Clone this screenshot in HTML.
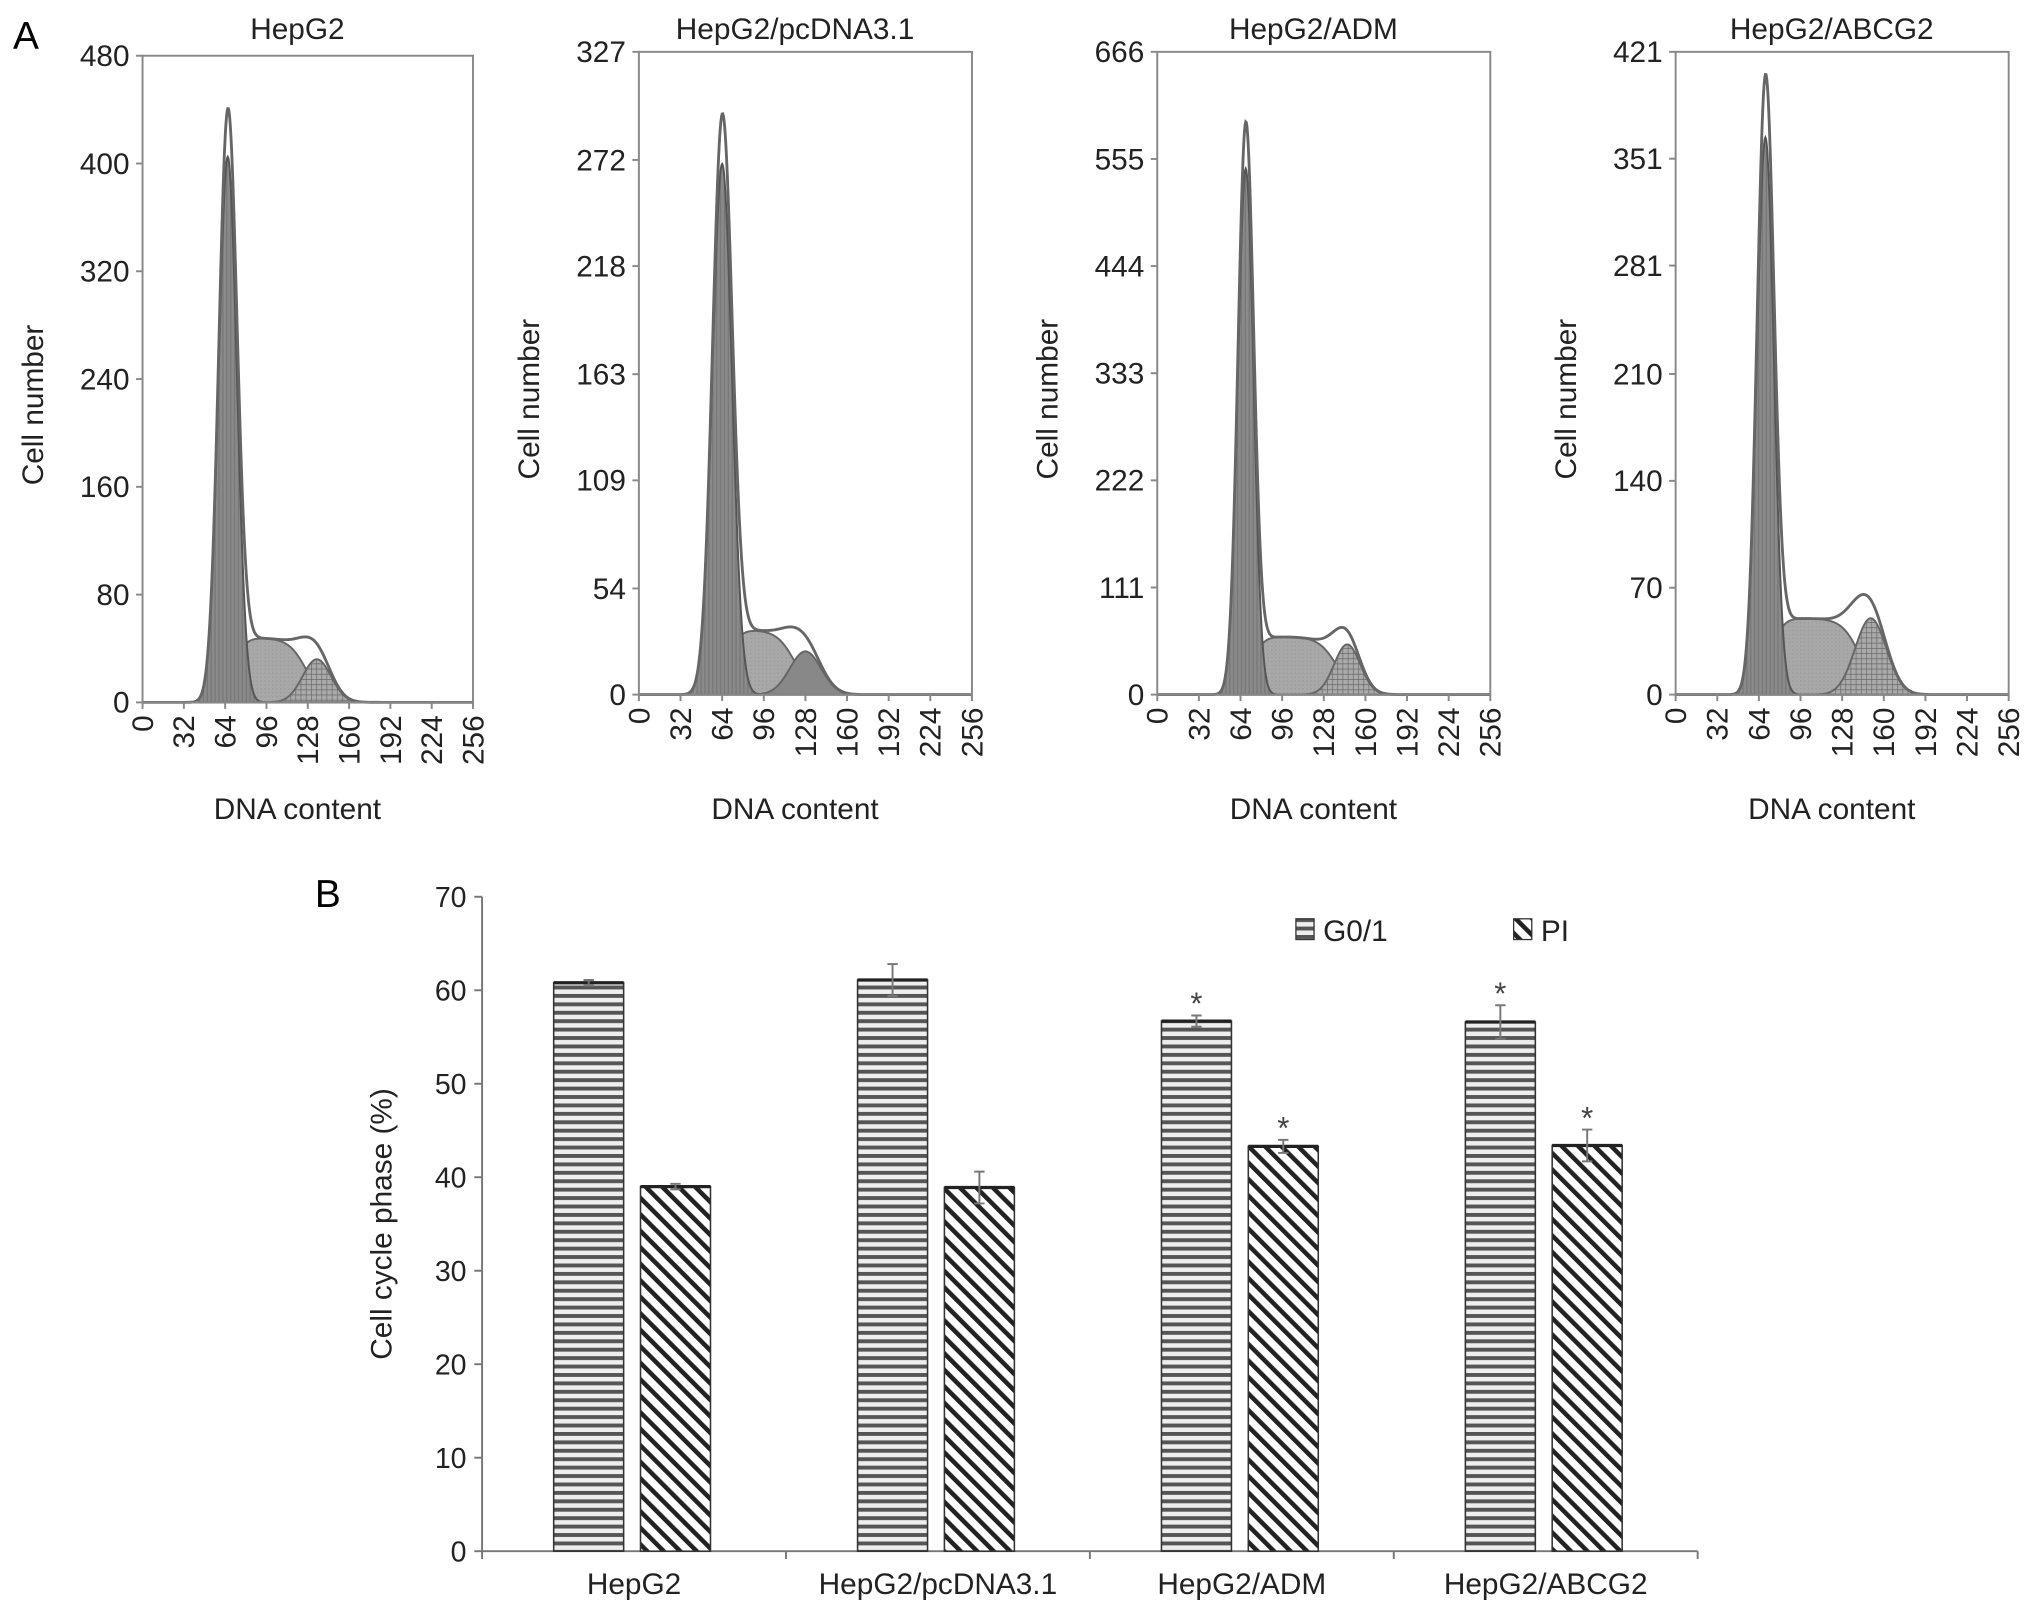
<!DOCTYPE html>
<html><head><meta charset="utf-8">
<style>
html,body{margin:0;padding:0;background:#fff;}
svg{display:block;font-family:"Liberation Sans",Arial,sans-serif;}
</style></head>
<body>
<svg id="fig" width="2032" height="1616" viewBox="0 0 1568 1247" preserveAspectRatio="none" xmlns="http://www.w3.org/2000/svg">
<defs>
<pattern id="vhatch" width="3" height="3" patternUnits="userSpaceOnUse"><rect width="3" height="3" fill="#8a8a8a"/><line x1="1" y1="0" x2="1" y2="3" stroke="#777" stroke-width="1"/></pattern>
<pattern id="dots" width="3" height="3" patternUnits="userSpaceOnUse"><rect width="3" height="3" fill="#a8a8a8"/><rect width="1" height="1" fill="#999"/></pattern>
<pattern id="cross" width="4" height="4" patternUnits="userSpaceOnUse"><rect width="4" height="4" fill="#aaa"/><path d="M0 0H4M0 0V4" stroke="#666" stroke-width="1"/></pattern>
<pattern id="hstripe" width="6" height="6.5" patternUnits="userSpaceOnUse"><rect width="6" height="6.5" fill="#eee"/><rect y="0" width="6" height="3" fill="#555"/></pattern>
<pattern id="diag" width="9" height="9" patternUnits="userSpaceOnUse" patternTransform="rotate(-45)"><rect width="9" height="9" fill="#fff"/><rect x="0" width="3.5" height="9" fill="#222"/></pattern>
</defs>
<text x="10" y="38" font-size="30">A</text>
<text x="243" y="700" font-size="30">B</text>
<g id="panelA"></g>
<g id="panelB"></g>
</svg>
<script>
// ---- Panel A data ----
const histTitles = ["HepG2","HepG2/pcDNA3.1","HepG2/ADM","HepG2/ABCG2"];
const histYMax = [480,327,666,421];
const histYTicks = [[0,80,160,240,320,400,480],[0,54,109,163,218,272,327],[0,111,222,333,444,555,666],[0,70,140,210,281,351,421]];
const xTicks = [0,32,64,96,128,160,192,224,256];
const g1Mean = [66,64,68,69];
const g1Height = [405,270,545,365];
const g1Sd = [7,7.5,6,6.5];
const sHeight = [48,33,60,50];
const g2Mean = [135,128,146,150];
const g2Height = [32,22,52,50];
const g2Sd = [11,12,10,12];
const peakExtra = [25,18,35,30];
// ---- Panel B data ----
const groups = ["HepG2","HepG2/pcDNA3.1","HepG2/ADM","HepG2/ABCG2"];
const g01Values = [60.8,61.1,56.7,56.6];
const g01Err = [0.3,1.7,0.6,1.8];
const piValues = [39.0,38.9,43.3,43.4];
const piErr = [0.3,1.7,0.7,1.7];
const sigG01 = [false,false,true,true];
const sigPI = [false,false,true,true];
const bTicks = [0,10,20,30,40,50,60,70];

const NS="http://www.w3.org/2000/svg";
function mk(tag,attrs,parent,txt){const e=document.createElementNS(NS,tag);for(const k in attrs)e.setAttribute(k,attrs[k]);if(txt!==undefined)e.textContent=txt;parent.appendChild(e);return e;}
const A=document.getElementById('panelA');
const boxes=[{l:110,r:365,t:43,b:542},{l:493,r:750,t:40,b:536},{l:893,r:1150,t:40,b:536},{l:1293,r:1550,t:40,b:536}];
const gauss=(x,m,s)=>Math.exp(-0.5*((x-m)/s)**2);
const sig=(x,m,s)=>1/(1+Math.exp(-(x-m)/s));
histTitles.forEach((title,i)=>{
  const bx=boxes[i];
  const g=mk('g',{},A);
  
  
  const X=v=>bx.l+(v/256)*(bx.r-bx.l);
  const Y=v=>bx.b-(v/histYMax[i])*(bx.b-bx.t);
  const g1=x=>g1Height[i]*gauss(x,g1Mean[i],g1Sd[i]);
  const sp=x=>sHeight[i]*sig(x,g1Mean[i]+5,4)*(1-sig(x,g2Mean[i]-8,7));
  const g2=x=>g2Height[i]*gauss(x,g2Mean[i],g2Sd[i]);
  const extra=x=>peakExtra[i]*gauss(x,g1Mean[i],g1Sd[i]*0.9);
  const area=(f)=>{let d=`M${X(0)},${Y(0)}`;for(let x=0;x<=256;x+=0.5)d+=`L${X(x).toFixed(2)},${Y(f(x)).toFixed(2)}`;return d+`L${X(256)},${Y(0)}Z`;};
  const line=(f)=>{let d='';for(let x=0;x<=256;x+=0.5)d+=(x?'L':'M')+X(x).toFixed(2)+','+Y(f(x)).toFixed(2);return d;};
  const pS=mk('path',{d:area(sp),fill:'url(#dots)',stroke:'#666','stroke-width':1.5},g);
  
  const pG2=mk('path',{d:area(g2),fill:i==1?'#888':'url(#cross)',stroke:'#666','stroke-width':1.5},g);
  
  const pG1=mk('path',{d:area(g1),fill:'url(#vhatch)',stroke:'#555','stroke-width':1.5},g);
  
  const env=mk('path',{d:line(x=>g1(x)+sp(x)+g2(x)+extra(x)),fill:'none',stroke:'#666','stroke-width':2.2},g);
  
  const fr=mk('rect',{x:bx.l,y:bx.t,width:bx.r-bx.l,height:bx.b-bx.t,fill:'none',stroke:'#888','stroke-width':1.5},g);
  
  histYTicks[i].forEach(t=>{
    mk('line',{x1:bx.l-5,x2:bx.l,y1:Y(t),y2:Y(t),stroke:'#888','stroke-width':1.5},g);
    const tl=mk('text',{x:bx.l-10,y:Y(t)+8,'font-size':23,'text-anchor':'end',fill:'#222'},g,t);
    
  });
  xTicks.forEach(t=>{
    mk('line',{x1:X(t),x2:X(t),y1:bx.b,y2:bx.b+5,stroke:'#888','stroke-width':1.5},g);
    const tl=mk('text',{x:0,y:0,'font-size':23,'text-anchor':'end',fill:'#222',transform:`translate(${X(t)+8},${bx.b+10}) rotate(-90)`},g,t);
    
  });
  const tt=mk('text',{x:(bx.l+bx.r)/2-8,y:30,'font-size':23,'text-anchor':'middle',fill:'#222'},g,title);
  
  const xl=mk('text',{x:(bx.l+bx.r)/2-8,y:632,'font-size':23,'text-anchor':'middle',fill:'#222'},g,'DNA content');
  
  const yl=mk('text',{x:0,y:0,'font-size':23,'text-anchor':'middle',fill:'#222',transform:`translate(${bx.l-77},${(bx.t+bx.b)/2+20}) rotate(-90)`},g,'Cell number');
  
});

// ---- Panel B ----
const B=document.getElementById('panelB');
const L=372,R=1310,y0=1197,y70=692;
const YB=v=>y0-(v/70)*(y0-y70);
const gw=(R-L)/groups.length, bw=54;
mk('line',{x1:L,x2:L,y1:y70,y2:y0,stroke:'#777','stroke-width':1.5},B);
mk('line',{x1:L,x2:R,y1:y0,y2:y0,stroke:'#777','stroke-width':1.5},B);
bTicks.forEach(t=>{
  mk('line',{x1:L-6,x2:L,y1:YB(t),y2:YB(t),stroke:'#777','stroke-width':1.5},B);
  const tl=mk('text',{x:L-12,y:YB(t)+8,'font-size':22,'text-anchor':'end',fill:'#222'},B,t);
  
});
for(let k=0;k<=groups.length;k++)mk('line',{x1:L+k*gw,x2:L+k*gw,y1:y0,y2:y0+6,stroke:'#777','stroke-width':1.5},B);
const yt=mk('text',{x:0,y:0,'font-size':23,'text-anchor':'middle',fill:'#222',transform:`translate(302,${(y0+y70)/2}) rotate(-90)`},B,'Cell cycle phase (%)');

groups.forEach((name,k)=>{
  const c=L+gw*(k+0.5);
  const sets=[[g01Values,g01Err,sigG01,'url(#hstripe)',c-62,'g01'],[piValues,piErr,sigPI,'url(#diag)',c+5,'pi']];
  sets.forEach(([vals,errs,sigs,fill,x,key])=>{
    const v=vals[k];
    const r=mk('rect',{x:x,y:YB(v),width:bw,height:y0-YB(v),fill:fill,stroke:'#333','stroke-width':1.2},B);
    
    mk('line',{x1:x,x2:x+bw,y1:YB(v),y2:YB(v),stroke:'#222','stroke-width':2.5},B);
    const cx=x+bw/2,e=errs[k];
    const eb=mk('path',{d:`M${cx},${YB(v-e)}V${YB(v+e)}M${cx-4},${YB(v+e)}H${cx+4}M${cx-4},${YB(v-e)}H${cx+4}`,stroke:'#777','stroke-width':1.5,fill:'none'},B);
    
    if(sigs[k]){const s=mk('text',{x:cx,y:YB(v+e)-1,'font-size':24,'text-anchor':'middle',fill:'#444'},B,'*');
      }
  });
  const cl=mk('text',{x:c,y:1230,'font-size':23,'text-anchor':'middle',fill:'#222'},B,name);
  
});
// legend
const lg=mk('g',{},B);

const l1=mk('rect',{x:1000,y:709,width:14,height:16,fill:'url(#hstripe)',stroke:'#333','stroke-width':1},lg);

mk('text',{x:1021,y:726,'font-size':23,fill:'#222'},lg,'G0/1');
const l2=mk('rect',{x:1168,y:709,width:14,height:16,fill:'url(#diag)',stroke:'#333','stroke-width':1},lg);

mk('text',{x:1189,y:726,'font-size':23,fill:'#222'},lg,'PI');
</script>
</body></html>
